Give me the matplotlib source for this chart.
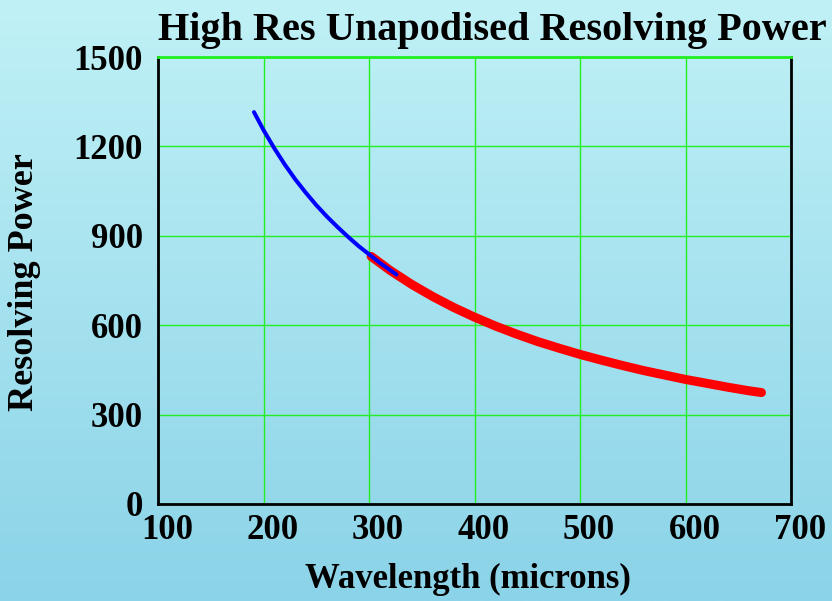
import numpy as np
import matplotlib
matplotlib.use("Agg")
import matplotlib.pyplot as plt
import matplotlib.transforms as mtransforms
from matplotlib.colors import LinearSegmentedColormap

# Short-wavelength band (blue) and long-wavelength band (red)
blue_wavelength = [191, 200, 210, 220, 230, 240, 250, 260, 270, 280, 290, 300, 310, 320, 326]
blue_power = [1315, 1255, 1195, 1140, 1090, 1045, 1003, 965, 930, 897, 866, 838, 810, 785, 770]

red_wavelength = [302, 320, 340, 360, 380, 400, 420, 440, 460, 480, 500, 520, 540, 560,
                  580, 600, 620, 640, 660, 672]
red_power = [831, 784, 738, 697, 660, 627, 597, 570, 545, 523, 502, 483, 465, 448,
             433, 418, 405, 392, 380, 374]

x_ticks = [100, 200, 300, 400, 500, 600, 700]
y_ticks = [0, 300, 600, 900, 1200, 1500]

plt.rcParams['font.family'] = ['Liberation Serif', 'DejaVu Serif']
plt.rcParams['font.weight'] = 'bold'

fig = plt.figure(figsize=(8.32, 6.01), dpi=100)

# vertical background gradient over the whole figure
bg = fig.add_axes([0, 0, 1, 1], zorder=-10)
cmap = LinearSegmentedColormap.from_list("bg", ["#8bd3e8", "#c0f1f6"])
grad = np.linspace(0, 1, 256).reshape(-1, 1)
bg.imshow(grad, aspect='auto', cmap=cmap, origin='lower', extent=[0, 1, 0, 1])
bg.axis('off')

L, R, B, T = 158 / 832, 791 / 832, 1 - 504 / 601, 1 - 57 / 601
ax = fig.add_axes([L, B, R - L, T - B])
ax.patch.set_alpha(0)

ax.set_xlim(100, 700)
ax.set_ylim(0, 1500)
ax.set_xticks(x_ticks)
ax.set_yticks(y_ticks)
ax.grid(True, color='#22ee22', linewidth=1.0)
ax.set_axisbelow(True)
ax.tick_params(length=0, labelsize=25)
ax.tick_params(axis='x', pad=7)
ax.tick_params(axis='y', pad=11)
for lab in ax.get_xticklabels() + ax.get_yticklabels():
    lab.set_fontweight('bold')
# x tick labels sit slightly to the right of their gridlines
shift = mtransforms.ScaledTranslation(9 / 100, 0, fig.dpi_scale_trans)
for lab in ax.get_xticklabels():
    lab.set_transform(lab.get_transform() + shift)
for s in ax.spines.values():
    s.set_color('black')
    s.set_linewidth(2)
ax.spines['top'].set_color('#22ee22')

ax.plot(red_wavelength, red_power, color='#ff0000', linewidth=6.5,
        solid_capstyle='round', zorder=3)
ax.plot(blue_wavelength, blue_power, color='#0000ff', linewidth=2.9,
        solid_capstyle='round', zorder=4)

fig.text(0.592, 0.95, "High Res Unapodised Resolving Power", ha='center', va='center',
         fontsize=29, fontweight='bold')
fig.text(0.5625, 0.035, "Wavelength (microns)", ha='center', va='center',
         fontsize=25, fontweight='bold')
fig.text(0.03, 0.53, "Resolving Power", ha='center', va='center', rotation=90,
         fontsize=26, fontweight='bold')

fig.savefig("out.png", dpi=100)
